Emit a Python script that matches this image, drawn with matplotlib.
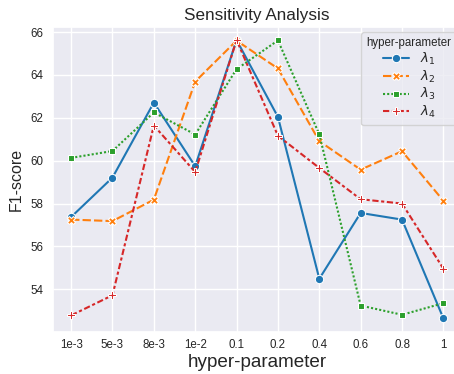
import matplotlib
matplotlib.use("Agg")
import matplotlib.pyplot as plt
import seaborn as sns
import pandas as pd

x_labels = ["1e-3", "5e-3", "8e-3", "1e-2", "0.1", "0.2", "0.4", "0.6", "0.8", "1"]
lambda1 = [57.37, 59.21, 62.71, 59.74, 65.63, 62.04, 54.49, 57.56, 57.25, 52.64]
lambda2 = [57.25, 57.18, 58.18, 63.69, 65.60, 64.30, 60.91, 59.58, 60.44, 58.13]
lambda3 = [60.13, 60.45, 62.25, 61.22, 64.27, 65.61, 61.23, 53.24, 52.81, 53.35]
lambda4 = [52.78, 53.72, 61.64, 59.47, 65.63, 61.16, 59.66, 58.20, 58.00, 54.96]
series_names = [r"$\lambda_1$", r"$\lambda_2$", r"$\lambda_3$", r"$\lambda_4$"]

rows = []
for name, vals in zip(series_names, [lambda1, lambda2, lambda3, lambda4]):
    for xl, v in zip(x_labels, vals):
        rows.append({"x": xl, "F1-score": v, "hyper-parameter": name})
df = pd.DataFrame(rows)

sns.set_theme(style="darkgrid")
plt.rcParams['font.family'] = ['Liberation Sans', 'DejaVu Sans']
plt.rcParams['mathtext.fontset'] = 'dejavusans'

fig = plt.figure(figsize=(4.54, 3.74), dpi=100)
ax = fig.add_axes([52.5/454, 42.3/374, (462-52.5)/454, (331.7-26.7)/374])
sns.lineplot(data=df, x="x", y="F1-score", hue="hyper-parameter",
             style="hyper-parameter", markers=True, dashes=True,
             palette="tab10", markersize=6, linewidth=1.5, ax=ax, sort=False)
ax.set_ylim(52.02, 66.25)
ax.set_title("Sensitivity Analysis", fontsize=12.3, pad=5)
ax.tick_params(labelsize=8.3, length=0)
ax.tick_params(axis="x", pad=5.5)
ax.tick_params(axis="y", pad=6.8)
ax.set_xlabel("hyper-parameter", fontsize=13.6, labelpad=2)
ax.set_ylabel("F1-score", fontsize=11.5, labelpad=4.5)
leg = ax.legend(title="hyper-parameter", loc="upper right", fontsize=9.5,
                title_fontsize=8.3, borderaxespad=0.4, labelspacing=0.12,
                handlelength=2.0)
fig.savefig("out.png", dpi=100)
